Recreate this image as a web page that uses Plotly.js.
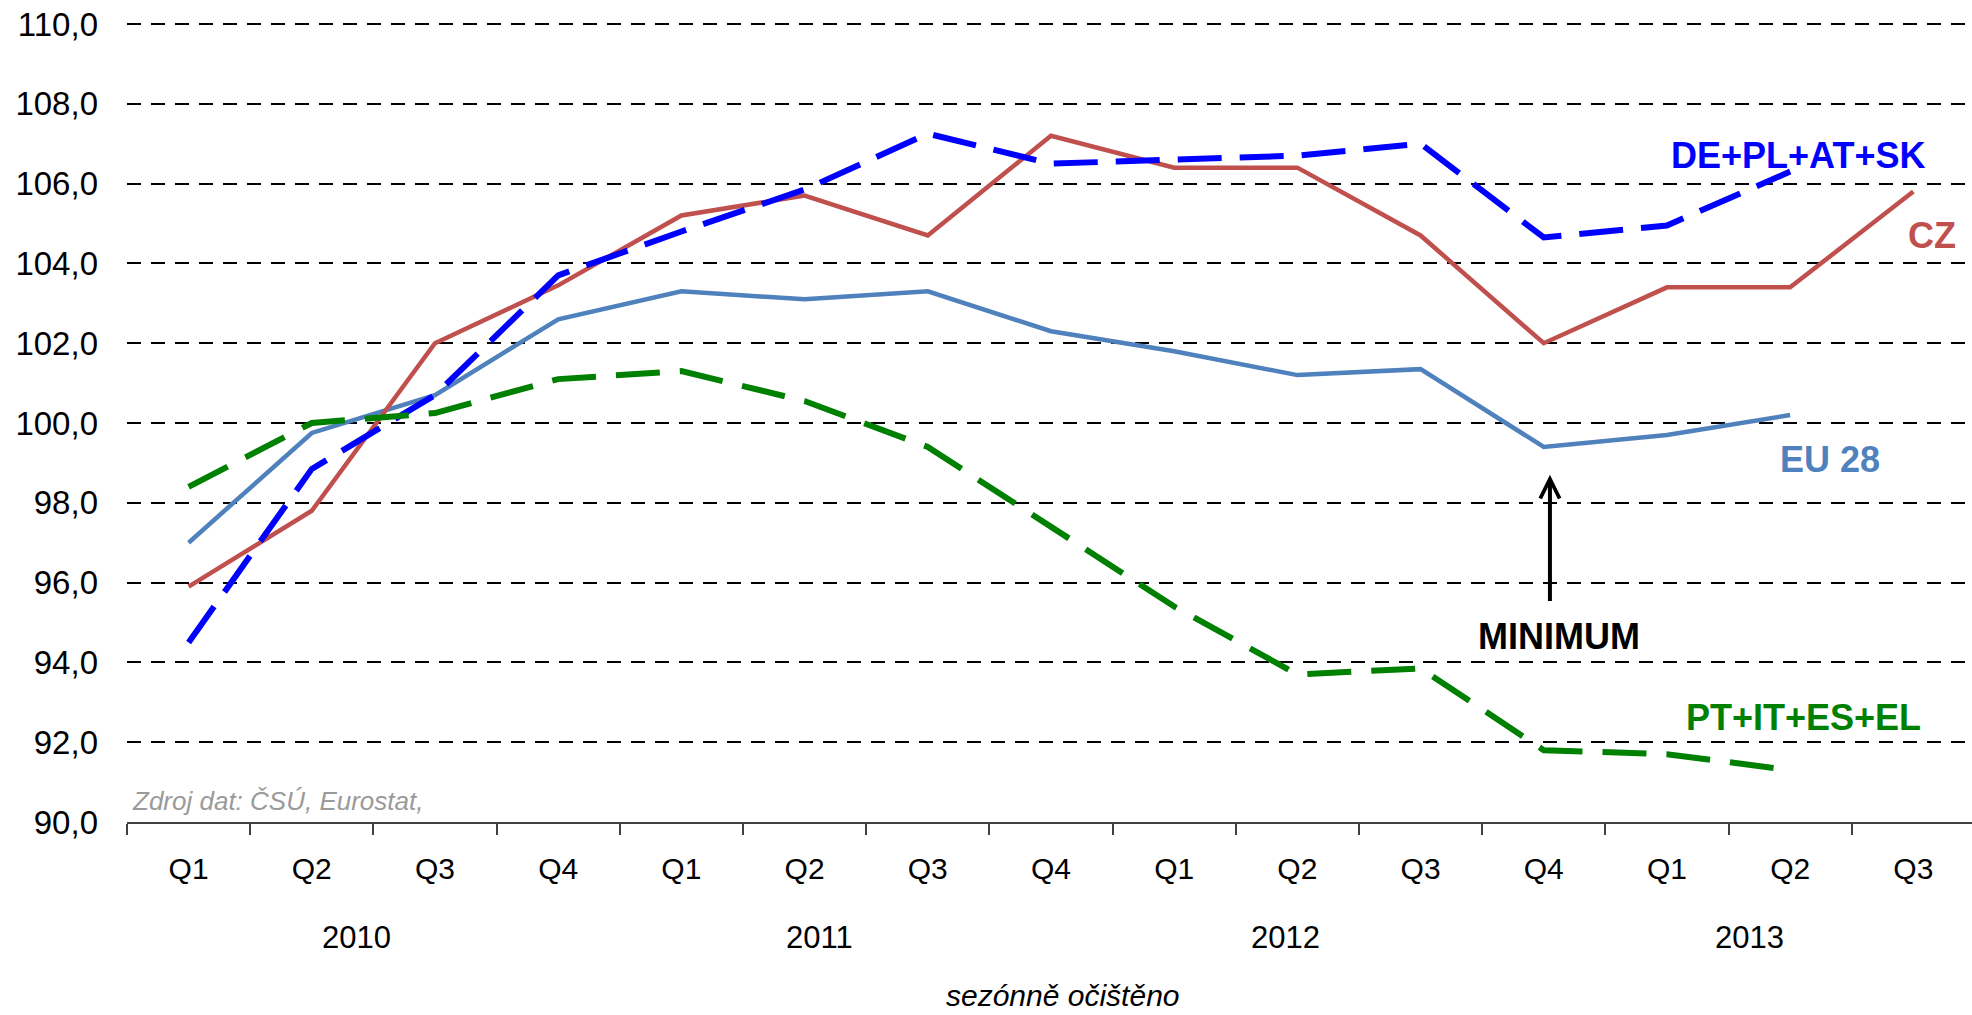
<!DOCTYPE html>
<html>
<head>
<meta charset="utf-8">
<script src="https://cdn.plot.ly/plotly-3.0.1.min.js"></script>
<style>
  html, body { margin: 0; padding: 0; background: #fff; }
  #chart { width: 1972px; height: 1015px; }
</style>
</head>
<body>
<div id="chart"></div>
<script>
// ---- data ----
const quarters = ['Q1','Q2','Q3','Q4','Q1','Q2','Q3','Q4','Q1','Q2','Q3','Q4','Q1','Q2','Q3'];
const years = ['2010', '2011', '2012', '2013'];
const cz        = [95.9, 97.8, 102.0, 103.45, 105.2, 105.7, 104.7, 107.2, 106.4, 106.4, 104.7, 102.0, 103.4, 103.4, 105.8];
const eu28      = [97.0, 99.75, 100.7, 102.6, 103.3, 103.1, 103.3, 102.3, 101.8, 101.2, 101.35, 99.4, 99.7, 100.2, null];
const dePlAtSk  = [94.5, 98.85, 100.7, 103.7, 104.8, 105.85, 107.25, 106.5, 106.6, 106.7, 107.0, 104.65, 104.95, 106.3, null];
const ptItEsEl  = [98.4, 100.0, 100.25, 101.1, 101.3, 100.55, 99.4, 97.4, 95.4, 93.7, 93.85, 91.8, 91.7, 91.3, null];
const yTicks = [90, 92, 94, 96, 98, 100, 102, 104, 106, 108, 110];

// ---- layout helpers ----
const FONT = '"Liberation Sans", Arial, sans-serif';
const xIdx = quarters.map((_, i) => i);
const yearPos = [1.364, 5.117, 8.9, 12.666];
const Y_TOP = 110.1;
const PLOT_H = 802;
// paper-y for a pixel row measured from the bottom axis line (822 px)
const py = (px) => (822 - px) / PLOT_H;

const traces = [
  { x: xIdx, y: eu28, mode: 'lines', name: 'EU 28',
    line: { color: '#4F81BD', width: 4.5 } },
  { x: xIdx, y: cz, mode: 'lines', name: 'CZ',
    line: { color: '#C0504D', width: 4.5 } },
  { x: xIdx, y: dePlAtSk, mode: 'lines', name: 'DE+PL+AT+SK',
    line: { color: '#0000FF', width: 6, dash: '44px,18px' } },
  { x: xIdx, y: ptItEsEl, mode: 'lines', name: 'PT+IT+ES+EL',
    line: { color: '#008000', width: 6, dash: '44px,20px' } }
];

const labelFont = (c) => ({ family: FONT, size: 36, color: c, weight: 'bold' });

const annotations = [
  { text: '<b>DE+PL+AT+SK</b>', x: 13.066, y: 106.70, xref: 'x', yref: 'y', showarrow: false, font: labelFont('#0000FF') },
  { text: '<b>CZ</b>', x: 14.149, y: 104.70, xref: 'x', yref: 'y', showarrow: false, font: labelFont('#C0504D') },
  { text: '<b>EU 28</b>', x: 13.326, y: 99.09, xref: 'x', yref: 'y', showarrow: false, font: labelFont('#4F81BD') },
  { text: '<b>MINIMUM</b>', x: 11.121, y: 94.65, xref: 'x', yref: 'y', showarrow: false, font: labelFont('#000000') },
  { text: '<b>PT+IT+ES+EL</b>', x: 13.109, y: 92.62, xref: 'x', yref: 'y', showarrow: false, font: labelFont('#008000') },
  { text: '', x: 11.05, y: 98.7, ax: 11.05, ay: 95.5, xref: 'x', yref: 'y', axref: 'x', ayref: 'y',
    showarrow: true, arrowhead: 5, arrowsize: 0.95, arrowwidth: 4, arrowcolor: '#000000', standoff: 0, startstandoff: 0 },
  { text: '<i>Zdroj dat: ČSÚ, Eurostat,</i>', x: 0.0015, y: py(801), xref: 'paper', yref: 'paper',
    xanchor: 'left', yanchor: 'middle', showarrow: false,
    font: { family: FONT, size: 26, color: '#9a9a9a' } },
  { text: '<i>sezónně očištěno</i>', x: (1063 - 127) / 1845, y: py(996), xref: 'paper', yref: 'paper',
    xanchor: 'center', yanchor: 'middle', showarrow: false,
    font: { family: FONT, size: 30, color: '#000000' } }
];
years.forEach((yr, i) => {
  annotations.push({ text: yr, x: yearPos[i], y: py(937), xref: 'x', yref: 'paper',
    xanchor: 'center', yanchor: 'middle', showarrow: false,
    font: { family: FONT, size: 31, color: '#000000' } });
});

const layout = {
  width: 1972, height: 1015,
  margin: { l: 127, r: 0, t: 1015 - 193 - PLOT_H, b: 193, pad: 0 },
  paper_bgcolor: '#ffffff', plot_bgcolor: '#ffffff',
  showlegend: false,
  separators: ', ',
  font: { family: FONT, color: '#000000' },
  xaxis: {
    range: [-0.5, 14.476],
    tickmode: 'array', tickvals: xIdx, ticktext: quarters,
    ticks: '', showgrid: false, zeroline: false,
    showline: true, linecolor: '#404040', linewidth: 2,
    tickfont: { family: FONT, size: 30, color: '#000000' },
    ticklabelstandoff: 19,
    minor: { tickmode: 'linear', tick0: -0.5, dtick: 1, ticks: 'outside', ticklen: 11,
             tickwidth: 2, tickcolor: '#404040', showgrid: false },
    fixedrange: true
  },
  yaxis: {
    range: [90, Y_TOP],
    tickmode: 'array', tickvals: yTicks, tickformat: '.1f',
    ticks: '', showline: false, zeroline: false,
    showgrid: true, gridcolor: '#000000', gridwidth: 2, griddash: '14px,10px',
    tickfont: { family: FONT, size: 33, color: '#000000' },
    ticklabelstandoff: 28,
    fixedrange: true
  },
  annotations: annotations
};

Plotly.newPlot('chart', traces, layout, { displayModeBar: false, staticPlot: true });
</script>
</body>
</html>
